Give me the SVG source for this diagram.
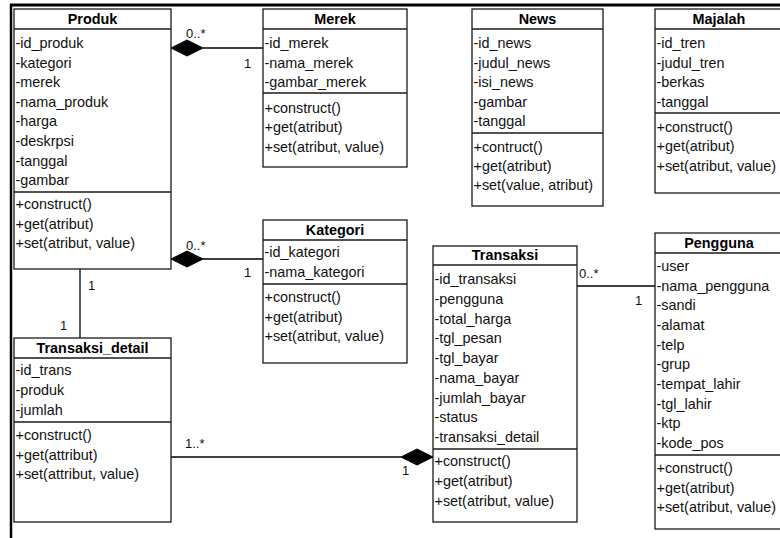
<svg xmlns="http://www.w3.org/2000/svg" width="780" height="538" viewBox="0 0 780 538">
<style>
.box{fill:#fff;stroke:#1a1a1a;stroke-width:1.3}
.div{stroke:#1a1a1a;stroke-width:1.3}
.t{font-family:"Liberation Sans",Arial,sans-serif;font-size:14.4px;fill:#111}
.h{font-family:"Liberation Sans",Arial,sans-serif;font-size:14.4px;font-weight:bold;fill:#000;text-anchor:middle}
.lbl{font-family:"Liberation Sans",Arial,sans-serif;font-size:13px;fill:#111}
.ln{stroke:#000;stroke-width:1.3;fill:none}
.dia{fill:#000;stroke:#000;stroke-width:1}
</style>
<rect width="780" height="538" fill="#fff"/>
<g id="frame">
<line x1="10" y1="5" x2="780" y2="5" stroke="#000" stroke-width="3"/>
<line x1="11" y1="4" x2="11" y2="538" stroke="#000" stroke-width="2.5"/>
</g>
<g id="connectors">
<line class="ln" x1="203" y1="48" x2="263" y2="48"/>
<polygon class="dia" points="171,48 187,40 203,48 187,56"/>
<line class="ln" x1="203" y1="259" x2="263" y2="259"/>
<polygon class="dia" points="171,259 187,251 203,259 187,267"/>
<line class="ln" x1="80" y1="269" x2="80" y2="338"/>
<line class="ln" x1="171" y1="457" x2="401" y2="457"/>
<polygon class="dia" points="401,457 417,449 433,457 417,465"/>
<line class="ln" x1="577" y1="286" x2="655" y2="286"/>
<text class="lbl" x="186" y="38">0..*</text>
<text class="lbl" x="244" y="68">1</text>
<text class="lbl" x="186" y="250">0..*</text>
<text class="lbl" x="244" y="277">1</text>
<text class="lbl" x="88" y="290">1</text>
<text class="lbl" x="60" y="330">1</text>
<text class="lbl" x="185" y="448">1..*</text>
<text class="lbl" x="402" y="475">1</text>
<text class="lbl" x="579" y="278">0..*</text>
<text class="lbl" x="635" y="305">1</text>
</g>
<g id="Produk">
<rect class="box" x="14" y="9" width="157" height="260"/>
<line class="div" x1="14" y1="29" x2="171" y2="29"/>
<line class="div" x1="14" y1="192" x2="171" y2="192"/>
<text class="h" x="92.5" y="24">Produk</text>
<text class="t" x="15.5" y="48">-id_produk</text>
<text class="t" x="15.5" y="67.6">-kategori</text>
<text class="t" x="15.5" y="87.2">-merek</text>
<text class="t" x="15.5" y="106.8">-nama_produk</text>
<text class="t" x="15.5" y="126.4">-harga</text>
<text class="t" x="15.5" y="146">-deskrpsi</text>
<text class="t" x="15.5" y="165.6">-tanggal</text>
<text class="t" x="15.5" y="185.2">-gambar</text>
<text class="t" x="15.5" y="209">+construct()</text>
<text class="t" x="15.5" y="228.5">+get(atribut)</text>
<text class="t" x="15.5" y="248">+set(atribut, value)</text>
</g>
<g id="Merek">
<rect class="box" x="263" y="9" width="144" height="158"/>
<line class="div" x1="263" y1="29" x2="407" y2="29"/>
<line class="div" x1="263" y1="93" x2="407" y2="93"/>
<text class="h" x="335" y="24">Merek</text>
<text class="t" x="264.5" y="48">-id_merek</text>
<text class="t" x="264.5" y="67.5">-nama_merek</text>
<text class="t" x="264.5" y="87">-gambar_merek</text>
<text class="t" x="264.5" y="112.5">+construct()</text>
<text class="t" x="264.5" y="132">+get(atribut)</text>
<text class="t" x="264.5" y="151.5">+set(atribut, value)</text>
</g>
<g id="News">
<rect class="box" x="472" y="9" width="131" height="197"/>
<line class="div" x1="472" y1="29" x2="603" y2="29"/>
<line class="div" x1="472" y1="133" x2="603" y2="133"/>
<text class="h" x="537.5" y="24">News</text>
<text class="t" x="473.5" y="48">-id_news</text>
<text class="t" x="473.5" y="67.5">-judul_news</text>
<text class="t" x="473.5" y="87">-isi_news</text>
<text class="t" x="473.5" y="106.5">-gambar</text>
<text class="t" x="473.5" y="126">-tanggal</text>
<text class="t" x="473.5" y="152">+contruct()</text>
<text class="t" x="473.5" y="171">+get(atribut)</text>
<text class="t" x="473.5" y="190">+set(value, atribut)</text>
</g>
<g id="Majalah">
<rect class="box" x="655" y="9" width="128" height="184"/>
<line class="div" x1="655" y1="29" x2="783" y2="29"/>
<line class="div" x1="655" y1="113" x2="783" y2="113"/>
<text class="h" x="719" y="24">Majalah</text>
<text class="t" x="656.5" y="48">-id_tren</text>
<text class="t" x="656.5" y="67.5">-judul_tren</text>
<text class="t" x="656.5" y="87">-berkas</text>
<text class="t" x="656.5" y="106.5">-tanggal</text>
<text class="t" x="656.5" y="131.5">+construct()</text>
<text class="t" x="656.5" y="151">+get(atribut)</text>
<text class="t" x="656.5" y="170.5">+set(atribut, value)</text>
</g>
<g id="Kategori">
<rect class="box" x="263" y="220" width="144" height="143"/>
<line class="div" x1="263" y1="240" x2="407" y2="240"/>
<line class="div" x1="263" y1="284" x2="407" y2="284"/>
<text class="h" x="335" y="235">Kategori</text>
<text class="t" x="264.5" y="257">-id_kategori</text>
<text class="t" x="264.5" y="277">-nama_kategori</text>
<text class="t" x="264.5" y="302">+construct()</text>
<text class="t" x="264.5" y="321.5">+get(atribut)</text>
<text class="t" x="264.5" y="341">+set(atribut, value)</text>
</g>
<g id="Transaksi_detail">
<rect class="box" x="14" y="338" width="157" height="184"/>
<line class="div" x1="14" y1="358" x2="171" y2="358"/>
<line class="div" x1="14" y1="422" x2="171" y2="422"/>
<text class="h" x="92.5" y="353">Transaksi_detail</text>
<text class="t" x="15.5" y="375">-id_trans</text>
<text class="t" x="15.5" y="395">-produk</text>
<text class="t" x="15.5" y="415">-jumlah</text>
<text class="t" x="15.5" y="440">+construct()</text>
<text class="t" x="15.5" y="460">+get(attribut)</text>
<text class="t" x="15.5" y="479">+set(attribut, value)</text>
</g>
<g id="Transaksi">
<rect class="box" x="433" y="246" width="144" height="276"/>
<line class="div" x1="433" y1="265" x2="577" y2="265"/>
<line class="div" x1="433" y1="449" x2="577" y2="449"/>
<text class="h" x="505" y="260">Transaksi</text>
<text class="t" x="434.5" y="284">-id_transaksi</text>
<text class="t" x="434.5" y="303.75">-pengguna</text>
<text class="t" x="434.5" y="323.5">-total_harga</text>
<text class="t" x="434.5" y="343.25">-tgl_pesan</text>
<text class="t" x="434.5" y="363">-tgl_bayar</text>
<text class="t" x="434.5" y="382.75">-nama_bayar</text>
<text class="t" x="434.5" y="402.5">-jumlah_bayar</text>
<text class="t" x="434.5" y="422.25">-status</text>
<text class="t" x="434.5" y="442">-transaksi_detail</text>
<text class="t" x="434.5" y="466">+construct()</text>
<text class="t" x="434.5" y="486">+get(atribut)</text>
<text class="t" x="434.5" y="506">+set(atribut, value)</text>
</g>
<g id="Pengguna">
<rect class="box" x="655" y="233" width="128" height="296"/>
<line class="div" x1="655" y1="253" x2="783" y2="253"/>
<line class="div" x1="655" y1="455" x2="783" y2="455"/>
<text class="h" x="719" y="248">Pengguna</text>
<text class="t" x="656.5" y="271">-user</text>
<text class="t" x="656.5" y="290.7">-nama_pengguna</text>
<text class="t" x="656.5" y="310.3">-sandi</text>
<text class="t" x="656.5" y="330">-alamat</text>
<text class="t" x="656.5" y="349.7">-telp</text>
<text class="t" x="656.5" y="369.3">-grup</text>
<text class="t" x="656.5" y="389">-tempat_lahir</text>
<text class="t" x="656.5" y="408.7">-tgl_lahir</text>
<text class="t" x="656.5" y="428.3">-ktp</text>
<text class="t" x="656.5" y="448">-kode_pos</text>
<text class="t" x="656.5" y="473">+construct()</text>
<text class="t" x="656.5" y="493">+get(atribut)</text>
<text class="t" x="656.5" y="512">+set(atribut, value)</text>
</g>
</svg>
